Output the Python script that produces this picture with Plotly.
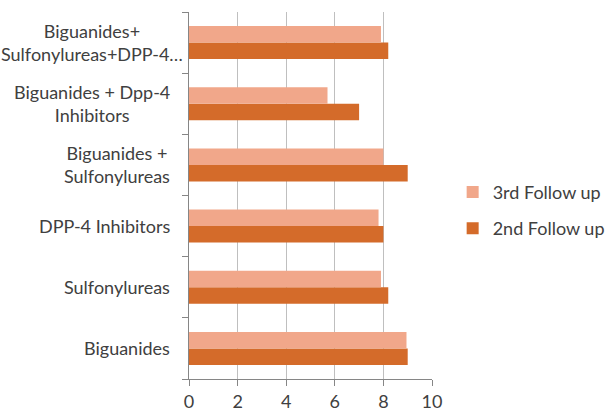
import plotly.graph_objects as go

# Treatment groups, bottom to top
categories = [
    "Biguanides",
    "Sulfonylureas",
    "DPP-4 Inhibitors",
    "Biguanides +<br>Sulfonylureas",
    "Biguanides + Dpp-4<br>Inhibitors",
    "Biguanides+<br>Sulfonylureas+DPP-4…",
]
second_follow_up = [9.0, 8.2, 8.0, 9.0, 7.0, 8.2]
third_follow_up = [8.95, 7.9, 7.8, 8.0, 5.7, 7.9]
x_ticks = [0, 2, 4, 6, 8, 10]

FONT = "Lato"
TEXT = "#404040"

fig = go.Figure()
fig.add_trace(go.Bar(
    y=categories, x=second_follow_up, orientation="h",
    name="2nd Follow up", legendgroup="g2", legendrank=2,
    marker=dict(color="#D46B2A", line=dict(width=0)),
))
fig.add_trace(go.Bar(
    y=categories, x=third_follow_up, orientation="h",
    name="3rd Follow up", legendgroup="g3", legendrank=1,
    marker=dict(color="#F1A78A", line=dict(width=0)),
))

# Category labels: right-aligned blocks with centred lines
for cat in categories:
    fig.add_annotation(
        x=0, xref="paper", xshift=-17 if "…" not in cat else -4,
        y=cat, yref="y", text=cat, showarrow=False,
        xanchor="right", align="center",
        font=dict(family=FONT, size=18, color=TEXT),
    )

fig.update_layout(
    width=606, height=411,
    margin=dict(l=189, r=174, t=12, b=32, autoexpand=False),
    paper_bgcolor="white", plot_bgcolor="white",
    barmode="group", bargap=0.46, bargroupgap=0,
    showlegend=True,
    legend=dict(
        x=1.085, y=0.46, xanchor="left", yanchor="middle",
        traceorder="grouped", tracegroupgap=10,
        font=dict(family=FONT, size=18, color=TEXT),
        itemwidth=30,
    ),
    font=dict(family=FONT, size=18, color=TEXT),
)
fig.update_xaxes(
    range=[0, 10], tickvals=x_ticks, ticks="outside", ticklen=6,
    tickcolor="#868686", showline=True, linecolor="#868686",
    showgrid=True, gridcolor="#BFBFBF", gridwidth=1, zeroline=False,
    tickfont=dict(family=FONT, size=18, color=TEXT),
)
fig.update_yaxes(
    type="category", range=[-0.5, 5.5], showticklabels=False,
    ticks="outside", tickson="boundaries", ticklen=6, tickcolor="#868686",
    showline=True, linecolor="#868686", showgrid=False, zeroline=False,
)

fig.write_html("out.html")
